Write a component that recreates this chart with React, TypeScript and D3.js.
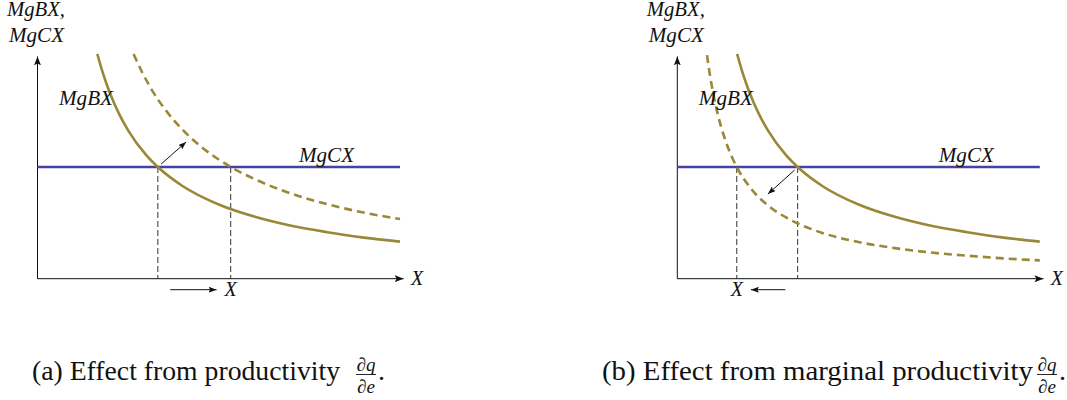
import * as d3 from 'd3';
import React from 'react';

const W = 1067;
const H = 400;

// level of the marginal cost line
const costLevel = 5;

// marginal benefit curve before the change (solid)
const baseX = [1.65, 1.8, 2, 2.25, 2.5, 3, 3.32, 4, 5, 6, 7, 8, 9, 10];
const baseY = [10.06, 9.22, 8.3, 7.38, 6.64, 5.53, 5.0, 4.15, 3.32, 2.77, 2.37, 2.08, 1.84, 1.66];

// (a) curve after a productivity rise (dashed)
const upX = [2.65, 2.9, 3.2, 3.6, 4, 4.5, 5.33, 6, 7, 8, 9, 10];
const upY = [10.06, 9.2, 8.33, 7.41, 6.67, 5.93, 5.0, 4.45, 3.81, 3.33, 2.96, 2.67];

// (b) curve after a marginal productivity change (dashed)
const downX = [0.82, 0.9, 1.0, 1.12, 1.3, 1.5, 1.64, 2, 2.5, 3, 3.5, 4, 5, 6, 7, 8, 9, 10];
const downY = [10.01, 9.12, 8.21, 7.33, 6.32, 5.47, 5.0, 4.1, 3.28, 2.74, 2.35, 2.05, 1.64, 1.37, 1.17, 1.03, 0.91, 0.82];

// equilibrium quantities
const eqBase = 3.32;
const eqUp = 5.33;
const eqDown = 1.64;

const OLIVE = '#988838';
const BLUE = '#4343a3';
const FONT = "'Liberation Serif', 'DejaVu Serif', serif";

const zip = (xs: number[], ys: number[]) => xs.map((x, i) => [x, ys[i]] as [number, number]);

type PanelProps = {
  left: number;
  shifted: [number, number][];
  eqNew: number;
  shiftFrom: [number, number];
  shiftTo: [number, number];
  qFrom: number;
  qTo: number;
};

function Panel({ left, shifted, eqNew, shiftFrom, shiftTo, qFrom, qTo }: PanelProps) {
  const x = d3.scaleLinear().domain([0, 10]).range([left + 37.5, left + 400]);
  const y = d3.scaleLinear().domain([0, 10]).range([278.7, 55.3]);

  const line = d3
    .line<[number, number]>()
    .x(d => x(d[0]))
    .y(d => y(d[1]))
    .curve(d3.curveMonotoneX);

  const base = zip(baseX, baseY);
  const y0 = y(0);
  const yc = y(costLevel);

  return (
    <g>
      {/* axes */}
      <line x1={x(0)} y1={y0} x2={x(0)} y2={y(9.95)} stroke="#111" strokeWidth={1} markerEnd="url(#axisHead)" />
      <line x1={x(0)} y1={y0} x2={x(10.1)} y2={y0} stroke="#111" strokeWidth={1} markerEnd="url(#axisHead)" />

      {/* drop lines */}
      {[eqBase, eqNew].map((q, i) => (
        <line
          key={i}
          x1={x(q)}
          x2={x(q)}
          y1={yc}
          y2={y0}
          stroke="#333"
          strokeWidth={1}
          strokeDasharray="6,3"
        />
      ))}

      {/* marginal cost */}
      <line x1={x(0)} x2={x(10)} y1={yc} y2={yc} stroke={BLUE} strokeWidth={2.6} />

      {/* marginal benefit curves */}
      <path d={line(base) || ''} fill="none" stroke={OLIVE} strokeWidth={2.6} />
      <path d={line(shifted) || ''} fill="none" stroke={OLIVE} strokeWidth={2.6} strokeDasharray="8,5" />

      {/* shift arrows */}
      <line
        x1={x(shiftFrom[0])}
        y1={y(shiftFrom[1])}
        x2={x(shiftTo[0])}
        y2={y(shiftTo[1])}
        stroke="#111"
        strokeWidth={1}
        markerEnd="url(#smallHead)"
      />
      <line
        x1={x(qFrom)}
        y1={y0 + 11}
        x2={x(qTo)}
        y2={y0 + 11}
        stroke="#111"
        strokeWidth={1}
        markerEnd="url(#smallHead)"
      />

      <g fontFamily={FONT} fontStyle="italic" fontSize={20} fill="#111">
        <text x={left + 7} y={16} textLength={58} lengthAdjust="spacingAndGlyphs">MgBX,</text>
        <text x={left + 9} y={41.5} textLength={55} lengthAdjust="spacingAndGlyphs">MgCX</text>
        <text x={left + 59} y={105} textLength={54} lengthAdjust="spacingAndGlyphs">MgBX</text>
        <text x={left + 299} y={161.5} textLength={55} lengthAdjust="spacingAndGlyphs">MgCX</text>
        <text x={left + 411} y={285}>X</text>
        <text x={x(eqNew)} y={296} textAnchor="middle">X</text>
      </g>
    </g>
  );
}

function Caption({ x, text, width, num }: { x: number; text: string; width: number; num: number }) {
  return (
    <g fontFamily={FONT} fill="#111">
      <text x={x} y={380} fontSize={28} textLength={width} lengthAdjust="spacingAndGlyphs">
        {text}
      </text>
      <text x={num + 10} y={371} fontSize={19} fontStyle="italic" textAnchor="middle">∂q</text>
      <line x1={num} x2={num + 20} y1={374.5} y2={374.5} stroke="#111" strokeWidth={0.9} />
      <text x={num + 10} y={393} fontSize={19} fontStyle="italic" textAnchor="middle">∂e</text>
      <text x={num + 22} y={380} fontSize={28}>.</text>
    </g>
  );
}

export default function App() {
  return (
    <div style={{ position: 'absolute', left: 0, top: 0 }}>
      <svg width={W} height={H} style={{ display: 'block', background: '#fff' }}>
        <defs>
          <marker
            id="axisHead"
            markerUnits="userSpaceOnUse"
            markerWidth={10}
            markerHeight={8}
            refX={9}
            refY={3.5}
            orient="auto"
          >
            <path d="M0,0 L9,3.5 L0,7 L2,3.5 Z" fill="#111" />
          </marker>
          <marker
            id="smallHead"
            markerUnits="userSpaceOnUse"
            markerWidth={10}
            markerHeight={8}
            refX={8}
            refY={3}
            orient="auto"
          >
            <path d="M0,0 L8,3 L0,6 L1.5,3 Z" fill="#111" />
          </marker>
        </defs>

        <Panel
          left={0}
          shifted={zip(upX, upY)}
          eqNew={eqUp}
          shiftFrom={[3.41, 5.13]}
          shiftTo={[4.1, 6.12]}
          qFrom={3.66}
          qTo={4.94}
        />
        <Panel
          left={639.8}
          shifted={zip(downX, downY)}
          eqNew={eqDown}
          shiftFrom={[3.24, 4.87]}
          shiftTo={[2.5, 3.79]}
          qFrom={2.98}
          qTo={2.03}
        />

        <Caption x={32} text="(a) Effect from productivity" width={308} num={356} />
        <Caption x={602} text="(b) Effect from marginal productivity" width={431} num={1037} />
      </svg>
    </div>
  );
}
